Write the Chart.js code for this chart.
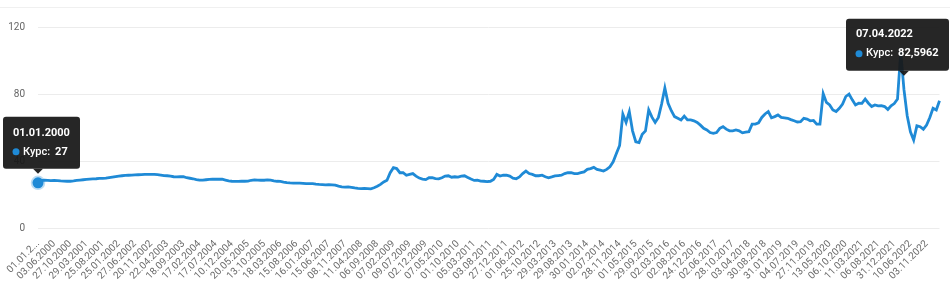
<!DOCTYPE html>
<html><head><meta charset="utf-8">
<script src="https://cdn.jsdelivr.net/npm/chart.js@4.4.1/dist/chart.umd.min.js"></script>
<style>
html,body{margin:0;padding:0;background:#fff;}
#wrap{position:relative;width:950px;height:289px;}
#topline{position:absolute;left:0;top:7px;width:950px;height:1px;background:#f0f0f0;}
canvas{position:absolute;left:0;top:0;}
</style></head><body>
<div id="wrap"><div id="topline"></div><canvas id="c"></canvas></div>
<script>
// ---- data ----
const tickDates = [
 '01.01.2000','03.06.2000','27.10.2000','29.03.2001','25.08.2001','25.01.2002','27.06.2002','20.11.2002',
 '22.04.2003','18.09.2003','17.02.2004','17.07.2004','10.12.2004','20.05.2005','13.10.2005','18.03.2006',
 '15.08.2006','16.01.2007','15.06.2007','08.11.2007','11.04.2008','06.09.2008','07.02.2009','09.07.2009',
 '02.12.2009','07.05.2010','01.10.2010','05.03.2011','03.08.2011','27.12.2011','01.06.2012','25.10.2012',
 '29.03.2013','29.08.2013','30.01.2014','02.07.2014','28.11.2014','01.05.2015','29.09.2015','02.03.2016',
 '02.08.2016','24.12.2016','02.06.2017','28.10.2017','03.04.2018','30.08.2018','31.01.2019','04.07.2019',
 '27.11.2019','13.05.2020','06.10.2020','11.03.2021','06.08.2021','31.12.2021','10.06.2022','03.11.2022'
];
const POINTS_PER_TICK = 5;
const rate = [
 27.0,28.3,28.5,28.4,28.3,  28.4,28.3,28.1,28.0,27.9,  27.9,28.1,28.4,28.6,28.8,  29.0,29.2,29.3,29.4,29.6,
 29.6,29.8,30.1,30.4,30.7,  31.0,31.2,31.4,31.5,31.6,  31.7,31.8,31.9,32.0,32.0,  32.0,32.0,31.9,31.6,31.3,
 31.2,31.0,30.6,30.5,30.7,  30.6,30.0,29.7,29.4,28.9,  28.6,28.6,28.8,29.0,29.1,  29.1,29.2,29.1,28.6,28.1,
 27.9,27.8,27.8,28.0,27.9,  28.0,28.5,28.7,28.6,28.5,  28.5,28.7,28.6,28.2,27.9,  27.8,27.4,27.1,26.9,26.8,
 26.8,26.8,26.7,26.5,26.5,  26.5,26.2,26.0,25.9,25.8,  25.9,25.8,25.6,25.0,24.6,  24.4,24.6,24.3,23.9,23.6,
 23.5,23.6,23.5,23.4,24.0,  24.9,26.0,27.5,28.5,33.0,  36.0,35.5,33.0,33.0,31.5,  32.0,32.5,31.0,29.8,29.2,
 28.9,30.0,30.0,29.5,29.3,  30.0,31.0,31.2,30.3,30.6,  30.4,31.0,31.2,30.2,29.2,  28.4,28.5,28.0,27.9,27.7,
 27.9,29.0,32.0,31.0,31.5,  31.6,31.0,29.8,29.4,30.5,  32.5,34.0,32.5,32.0,31.2,  31.2,31.5,30.6,30.0,30.5,
 31.1,31.3,31.5,32.5,33.0,  33.0,32.5,32.5,33.0,33.5,  35.0,35.5,36.2,35.0,34.5,  34.0,35.0,36.5,39.5,44.5,
 49.3,68.0,63.0,69.5,58.0,  51.5,51.0,56.0,58.0,70.5,  66.2,63.0,66.0,74.0,83.6,  74.5,70.0,66.5,65.5,64.5,
 66.8,64.5,64.5,64.0,63.0,  61.4,59.5,58.5,57.0,56.5,  57.0,59.5,60.5,59.0,58.0,  58.0,58.5,58.0,56.8,57.2,
 57.5,62.0,62.0,62.8,66.0,  68.1,69.5,65.8,66.5,67.5,  66.0,65.8,65.5,64.7,64.0,  63.3,63.5,65.5,65.0,64.0,
 64.2,62.0,62.0,80.2,75.0,  73.5,70.5,69.5,71.5,74.0,  78.5,80.0,76.5,73.5,74.5,  74.4,77.0,74.5,72.5,73.5,
 72.9,73.0,72.5,70.8,73.0,  74.3,77.0,105.0,82.5962,67.0,  57.4,52.5,61.0,60.5,59.0,  61.5,66.0,71.5,70.5,76.0
];
const yTicks = [0, 40, 80, 120];
const seriesName = 'Курс';
const pinnedIndex = [0, 268];
const pinnedDates = ['01.01.2000', '07.04.2022'];

// ---- styling ----
const LINE = '#1f8ad6';
const FONT = 'Roboto, "Open Sans", sans-serif';
const pinnedGap = [9, 14];

const labels = rate.map((_, i) => i % POINTS_PER_TICK === 0 ? (tickDates[i / POINTS_PER_TICK] || '') : '');
const fmt = v => String(v).replace('.', ',');

function rr(ctx, x, y, w, h, r) {
  ctx.beginPath();
  ctx.moveTo(x + r, y); ctx.lineTo(x + w - r, y); ctx.quadraticCurveTo(x + w, y, x + w, y + r);
  ctx.lineTo(x + w, y + h - r); ctx.quadraticCurveTo(x + w, y + h, x + w - r, y + h);
  ctx.lineTo(x + r, y + h); ctx.quadraticCurveTo(x, y + h, x, y + h - r);
  ctx.lineTo(x, y + r); ctx.quadraticCurveTo(x, y, x + r, y); ctx.closePath();
}

function drawTip(chart, x, tipY, title, label, value) {
  const ctx = chart.ctx;
  const padX = 10, caret = 5, h = 52;
  ctx.save();
  ctx.font = 'bold 11px ' + FONT;
  const tw = ctx.measureText(title).width;
  ctx.font = '500 11px ' + FONT;
  const lw = ctx.measureText(label).width;
  ctx.font = 'bold 11px ' + FONT;
  const vw = ctx.measureText(value).width;
  const bodyW = 10 + lw + 5 + vw;
  const w = Math.round(Math.max(tw, bodyW) + padX * 2);
  let left = x - w / 2;
  left = Math.max(3, Math.min(left, chart.width - w - 1));
  const bottom = tipY - caret, top = bottom - h;
  ctx.fillStyle = 'rgba(24,24,24,0.94)';
  rr(ctx, left, top, w, h, 3); ctx.fill();
  ctx.beginPath(); ctx.moveTo(x - 5, bottom); ctx.lineTo(x, tipY); ctx.lineTo(x + 5, bottom); ctx.closePath(); ctx.fill();
  ctx.textBaseline = 'middle'; ctx.textAlign = 'left';
  ctx.fillStyle = '#ffffff';
  ctx.font = 'bold 11px ' + FONT;
  ctx.fillText(title, left + padX, top + 16);
  ctx.fillStyle = LINE;
  ctx.beginPath(); ctx.arc(left + padX + 3, top + 35, 3.5, 0, Math.PI * 2); ctx.fill();
  ctx.fillStyle = '#ffffff';
  ctx.font = '500 11px ' + FONT;
  ctx.fillText(label, left + padX + 10, top + 35);
  ctx.font = 'bold 11px ' + FONT;
  ctx.fillText(value, left + padX + 10 + lw + 5, top + 35);
  ctx.restore();
}

const pinPlugin = {
  id: 'pins',
  afterDraw(chart) {
    const meta = chart.getDatasetMeta(0);
    pinnedIndex.forEach((idx, k) => {
      const el = meta.data[idx];
      drawTip(chart, el.x, el.y - pinnedGap[k], pinnedDates[k], seriesName + ':', fmt(rate[idx]));
    });
  }
};

new Chart(document.getElementById('c'), {
  type: 'line',
  data: {
    labels: labels,
    datasets: [{
      label: seriesName,
      data: rate,
      borderColor: LINE,
      borderWidth: 2.8,
      fill: false,
      tension: 0,
      pointRadius: c => c.dataIndex === pinnedIndex[0] ? 5.5 : 0,
      pointBackgroundColor: LINE,
      pointBorderColor: 'rgba(31,138,214,0.3)',
      pointBorderWidth: 3.5,
      pointHoverRadius: 0
    }]
  },
  options: {
    responsive: true,
    maintainAspectRatio: false,
    animation: false,
    events: [],
    layout: { padding: { top: 27, right: 5, left: 0, bottom: 0 } },
    plugins: { legend: { display: false }, tooltip: { enabled: false } },
    scales: {
      x: {
        grid: { display: false },
        border: { display: false },
        afterFit: s => { s.height = 61; },
        ticks: {
          autoSkip: false,
          minRotation: 45, maxRotation: 45,
          padding: 2,
          color: '#6a6a6a',
          font: { family: FONT, size: 10 },
          callback: function (v, i) {
            const l = this.getLabelForValue(v);
            return (i === 0 && l) ? l.slice(0, 7) + '...' : l;
          }
        }
      },
      y: {
        min: yTicks[0], max: yTicks[yTicks.length - 1],
        afterFit: s => { s.width = 38; },
        afterBuildTicks: s => { s.ticks = yTicks.map(v => ({ value: v })); },
        grid: { color: '#ececec', drawTicks: false, lineWidth: 1 },
        border: { display: false },
        ticks: { padding: 13, color: '#666', font: { family: FONT, size: 10 } }
      }
    }
  },
  plugins: [pinPlugin]
});
</script>
</body></html>
